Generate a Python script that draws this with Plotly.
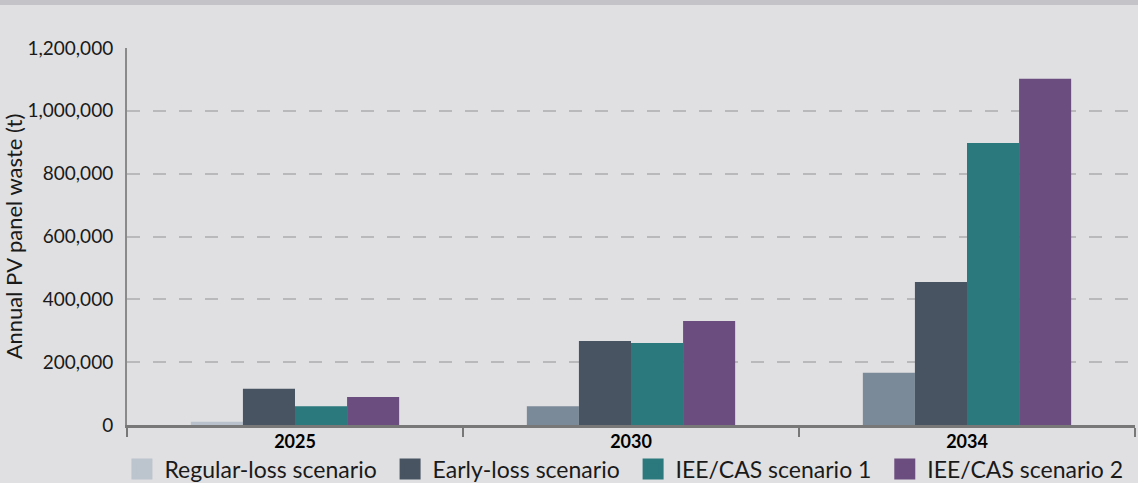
import plotly.graph_objects as go

years = ["2025", "2030", "2034"]
regular_loss = [10000, 60000, 166000]
early_loss = [115000, 267000, 455000]
iee_cas_1 = [60000, 261000, 898000]
iee_cas_2 = [89000, 331000, 1102000]
y_ticks = [0, 200000, 400000, 600000, 800000, 1000000, 1200000]

# name, values, bar colour(s), legend swatch colour
series = [
    ("Regular-loss scenario", regular_loss, ["#b9c2cc", "#7b8a99", "#7b8a99"], "#bcc4cd"),
    ("Early-loss scenario", early_loss, "#485461", "#485461"),
    ("IEE/CAS scenario 1", iee_cas_1, "#2b787d", "#2b787d"),
    ("IEE/CAS scenario 2", iee_cas_2, "#6c4d7f", "#6c4d7f"),
]

fig = go.Figure()
for i, (name, vals, col, swatch) in enumerate(series):
    fig.add_trace(go.Bar(x=years, y=vals, name=name, marker_color=col,
                         marker_line_width=0, showlegend=False))
    # legend-only trace so the swatch is a big square like the original
    label = name + ("\u00a0" if i < len(series) - 1 else "")
    fig.add_trace(go.Scatter(x=[None], y=[None], name=label, mode="markers",
                             marker=dict(symbol="square", size=16, color=swatch,
                                         line=dict(color=swatch, width=5))))

font = "Lato, 'Open Sans', sans-serif"
fig.update_layout(
    width=1138, height=483,
    margin=dict(l=127, r=3, t=48, b=58, autoexpand=False),
    paper_bgcolor="#e0e0e2", plot_bgcolor="#e0e0e2",
    barmode="group", bargap=0.38, bargroupgap=0,
    font=dict(family=font, color="#1a1a1a", size=18),
    legend=dict(orientation="h", x=0.493, xanchor="center", xref="paper",
                y=0.029, yanchor="middle", yref="container",
                font=dict(size=23), itemwidth=35,
                traceorder="normal", itemsizing="trace", bgcolor="rgba(0,0,0,0)"),
    shapes=[dict(type="rect", xref="paper", yref="paper", x0=-0.2, x1=1.1,
                 y0=1.114, y1=1.2, fillcolor="#c4c4c8", line_width=0, layer="below")],
)
fig.update_xaxes(
    showline=True, linecolor="#787878", linewidth=3,
    ticks="outside", tickson="boundaries", ticklen=9, tickwidth=2, tickcolor="#787878",
    ticklabelstandoff=-2,
    tickfont=dict(size=18, weight="bold", color="#000000"), showgrid=False,
)
fig.update_yaxes(
    range=[0, 1200000], tickvals=y_ticks, tickformat=",",
    showline=True, linecolor="#8a8a8a", linewidth=2,
    showgrid=True, gridcolor="#b9b9bb", griddash="13px,13px", gridwidth=1.5,
    zeroline=False, ticks="", ticklabelstandoff=8,
    tickfont=dict(size=19),
    title=dict(text="Annual PV panel waste (t)", font=dict(size=22), standoff=4),
)

fig.write_html("out.html", config={"displayModeBar": False},
               post_script="document.body.style.margin='0';")
